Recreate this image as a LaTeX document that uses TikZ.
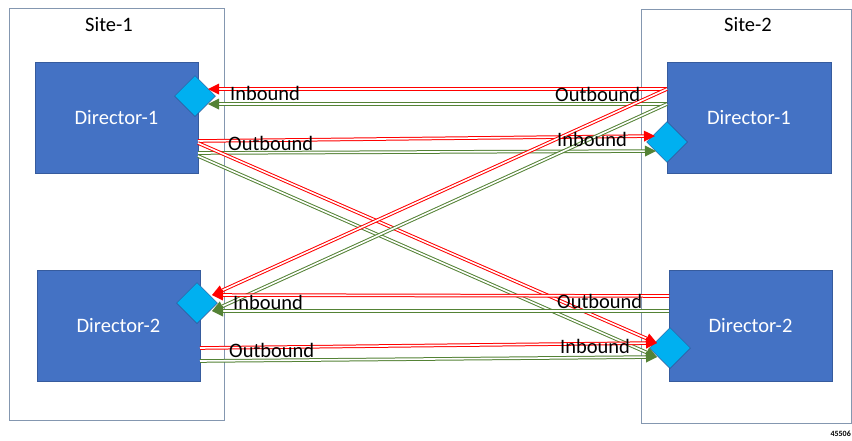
\documentclass[tikz,border=0pt]{standalone}
\usepackage{fontspec}
\setmainfont{Carlito}
\usetikzlibrary{decorations.markings,shapes.geometric}
\definecolor{siteborder}{RGB}{132,151,176}
\definecolor{dirblue}{RGB}{68,114,196}
\definecolor{diacyan}{RGB}{0,176,240}
\definecolor{diaborder}{RGB}{47,85,151}
\definecolor{lnred}{RGB}{255,0,0}
\definecolor{lngreen}{RGB}{84,130,53}
\tikzset{
  sitebox/.style={draw=siteborder, line width=0.8pt, inner sep=0pt, fill=white},
  dirbox/.style={fill=dirblue, draw=dirblue!80!black, line width=0.4pt, inner sep=0pt,
                 minimum width=163pt, minimum height=111pt, text=white, font=\fontsize{20.5}{24}\selectfont},
  port/.style={diamond, aspect=1, fill=diacyan, draw=diaborder, line width=0.5pt, inner sep=0pt,
               minimum width=41pt, minimum height=41pt},
  lbl/.style={font=\fontsize{20.5}{24}\selectfont, inner sep=0pt, anchor=base west, text=black},
  dline/.style={draw=#1, double=white, line width=1pt, double distance=1.6pt, shorten >=7pt,
    postaction={decorate, decoration={markings, mark=at position 1 with {\fill[#1] (0,0) -- (-11pt,5.5pt) -- (-11pt,-5.5pt) -- cycle;}}}},
}
\begin{document}
\begin{tikzpicture}[x=1pt, y=-1pt]
\useasboundingbox (0,0) rectangle (852,440);
% sites
\node[sitebox, minimum width=215pt, minimum height=412pt] (site1) at (116.5,214) {};
\node[sitebox, minimum width=210pt, minimum height=414pt] (site2) at (746,216) {};
\node[lbl] (site1lbl) at (85,31) {Site-1};
\node[lbl] (site2lbl) at (724,31) {Site-2};
% directors
\node[dirbox] (d1l) at (116.5,117.5) {Director-1};
\node[dirbox] (d2l) at (118.5,325.5) {Director-2};
\node[dirbox, minimum width=164pt] (d1r) at (749,117.5) {Director-1};
\node[dirbox] (d2r) at (750.5,325.5) {Director-2};
% ports
\node[port] (p1l) at (195,96) {};
\node[port] (p2l) at (197,303) {};
\node[port] (p1r) at (667,142) {};
\node[port] (p2r) at (670,348) {};
% connector end points
\coordinate (r1a) at (667,89);   \coordinate (r1b) at (667,104);
\coordinate (l1a) at (198,141);  \coordinate (l1b) at (198,153);
\coordinate (l1c) at (198,143);  \coordinate (l1d) at (198,156);
\coordinate (r2a) at (669,296);  \coordinate (r2b) at (669,311);
\coordinate (l2a) at (200,348);  \coordinate (l2b) at (200,361);
\coordinate (p1lr) at (208,89);  \coordinate (p1lg) at (208,104);
\coordinate (p2lr) at (212,295); \coordinate (p2lg) at (212,311);
\coordinate (p1rr) at (655,136); \coordinate (p1rg) at (656,151);
\coordinate (p2rr) at (657,343); \coordinate (p2rg) at (657,357);
% inbound to director-1 site-1
\draw[dline=lnred] (r1a) -- (p1lr);
\draw[dline=lngreen] (r1b) -- (p1lg);
% outbound from director-1 site-1
\draw[dline=lnred] (l1a) -- (p1rr);
\draw[dline=lngreen] (l1b) -- (p1rg);
% cross site-1 d1 to site-2 d2
\draw[dline=lnred] (l1c) -- (p2rr);
\draw[dline=lngreen] (l1d) -- (p2rg);
% cross site-2 d1 to site-1 d2
\draw[dline=lnred] (r1a) -- (p2lr);
\draw[dline=lngreen] (r1b) -- (p2lg);
% inbound to director-2 site-1
\draw[dline=lnred] (r2a) -- (p2lr);
\draw[dline=lngreen] (r2b) -- (p2lg);
% outbound from director-2 site-1
\draw[dline=lnred] (l2a) -- (p2rr);
\draw[dline=lngreen] (l2b) -- (p2rg);
% labels
\node[lbl] (in1l) at (230,100) {Inbound};
\node[lbl] (out1l) at (228,150) {Outbound};
\node[lbl] (out1r) at (555,101) {Outbound};
\node[lbl] (in1r) at (557,146) {Inbound};
\node[lbl] (in2l) at (233,309) {Inbound};
\node[lbl] (out2l) at (229,357) {Outbound};
\node[lbl] (out2r) at (557,308) {Outbound};
\node[lbl] (in2r) at (560,353) {Inbound};
\node[font=\bfseries\fontsize{8}{9}\selectfont, inner sep=0pt, anchor=base east] (fig) at (851,436) {45506};
\end{tikzpicture}
\end{document}
